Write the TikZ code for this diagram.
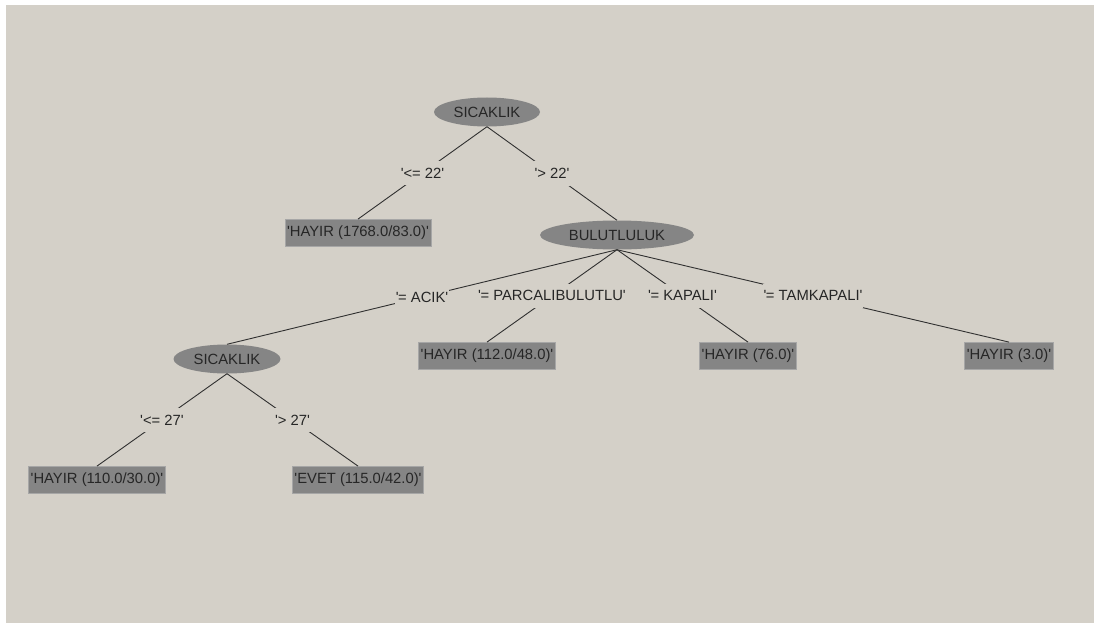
\documentclass[tikz,border=0pt]{standalone}
\usepackage{fontspec}
\setmainfont{Liberation Sans}[Ligatures=TeXOff]
\usetikzlibrary{shapes.geometric}
\definecolor{panel}{HTML}{D4D0C8}
\definecolor{nodegray}{HTML}{858585}
\definecolor{leafedge}{HTML}{A6A6A6}
\definecolor{inkline}{HTML}{303030}
\newcommand{\qeq}{'\kern-0.03em=}
\begin{document}
\begin{tikzpicture}[x=1pt,y=-1pt,
  font=\fontsize{14.8}{17}\selectfont,
  test/.style={ellipse, fill=nodegray, draw=none, inner sep=0pt, minimum height=29pt, text=black!85},
  leaf/.style={rectangle, fill=nodegray, draw=leafedge, line width=0.8pt, inner xsep=2pt, minimum height=27pt, text=black!85},
  edge/.style={draw=inkline, line width=0.9pt},
  lbl/.style={fill=panel, inner xsep=1pt, inner ysep=7pt, text=black!85}]
  % canvas
  \fill[white] (0,0) rectangle (1094,623);
  \fill[panel] (6,5) rectangle (1094,623);
  \useasboundingbox (0,0) rectangle (1094,623);

  % nodes
  \node[test, minimum width=106pt] (root) at (487,112) {SICAKLIK};
  \node[leaf] (l1) at (358,233) {'HAYIR (1768.0/83.0)'};
  \node[test, minimum width=154pt] (bul) at (617,235) {BULUTLULUK};
  \node[test, minimum width=107pt] (sic) at (227,359) {SICAKLIK};
  \node[leaf] (l2) at (487,356) {'HAYIR (112.0/48.0)'};
  \node[leaf] (l3) at (748,356) {'HAYIR (76.0)'};
  \node[leaf] (l4) at (1009,356) {'HAYIR (3.0)'};
  \node[leaf] (l5) at (97,480) {'HAYIR (110.0/30.0)'};
  \node[leaf] (l6) at (358,480) {'EVET (115.0/42.0)'};

  % branches with their conditions
  \path[edge] (root.south) -- node[lbl] {'<= 22'} (l1.north);
  \path[edge] (root.south) -- node[lbl] {'> 22'} (bul.north);
  \path[edge] (bul.south) -- node[lbl] {\qeq{} ACIK'} (sic.north);
  \path[edge] (bul.south) -- node[lbl] {\qeq{} PARCALIBULUTLU'} (l2.north);
  \path[edge] (bul.south) -- node[lbl] {\qeq{} KAPALI'} (l3.north);
  \path[edge] (bul.south) -- node[lbl] {\qeq{} TAMKAPALI'} (l4.north);
  \path[edge] (sic.south) -- node[lbl] {'<= 27'} (l5.north);
  \path[edge] (sic.south) -- node[lbl] {'> 27'} (l6.north);
\end{tikzpicture}
\end{document}
